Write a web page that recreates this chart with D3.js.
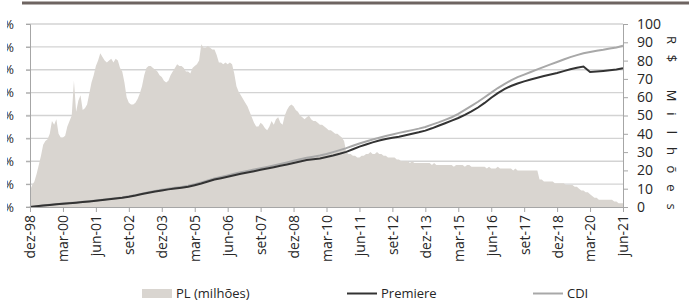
<!DOCTYPE html>
<html>
<head>
<meta charset="utf-8">
<script src="https://cdn.jsdelivr.net/npm/d3@7"></script>
<style>
  body { margin: 0; background: #fff; }
  text { font-family: "Open Sans", sans-serif; fill: #262626; }
</style>
</head>
<body>
<div id="chart"></div>
<script>
// x tick labels, one every 15 months starting dez-98
const xLabels = ["dez-98","mar-00","jun-01","set-02","dez-03","mar-05","jun-06","set-07","dez-08",
  "mar-10","jun-11","set-12","dez-13","mar-15","jun-16","set-17","dez-18","mar-20","jun-21"];
const leftTicks = [0, 200, 400, 600, 800, 1000, 1200, 1400, 1600];
const rightTicks = [0, 10, 20, 30, 40, 50, 60, 70, 80, 90, 100];

// PL (R$ milhoes), monthly from dez-98 to jun-21
const plMonthly = [
  9,12,14,18,23,28,34,36,37,40,47,45,48,40,38,38,39,44,47,50,69,52,58,61,53,54,56,62,68,72,
  77,80,84,82,80,79,80,81,79,81,80,76,74,68,60,57,56,56,57,59,62,66,72,76,77,77,76,75,74,72,
  71,69,68,69,72,74,76,78,77,77,76,74,74,73,76,77,78,80,89,87,87,88,87,86,86,83,79,79,78,79,
  78,79,78,73,66,63,61,59,57,55,52,49,46,44,44,46,45,43,42,44,47,45,48,49,46,45,50,53,55,56,
  55,53,52,50,49,48,49,50,48,47,47,46,45,45,44,43,42,42,41,40,40,39,38,36,30,29,29,28,28,27,
  27,28,28,29,29,30,29,29,30,29,29,28,28,27,27,27,27,26,26,25,25,25,25,24,25,24,24,24,24,24,
  24,24,24,23,24,23,23,23,23,23,23,23,23,22,23,23,23,23,22,23,23,22,22,22,22,22,22,22,21,22,
  21,21,21,22,21,21,21,21,21,21,20,21,20,20,20,20,20,20,20,20,20,20,15,15,14,14,14,14,14,13,
  13,13,13,13,12,12,12,12,11,11,10,9,9,8,8,7,6,5,5,4,4,4,4,4,4,4,3,3,2,2,2
];

// cumulative return (%), quarterly from dez-98 to jun-21
const premiereQ = [
  0,6,13,18,24,28,33,38,44,49,55,61,68,74,80,89,100,113,125,135,145,154,162,169,177,191,206,223,240,
  252,264,277,290,302,313,325,336,348,360,372,385,398,410,418,425,437,450,465,482,505,528,547,565,
  581,595,606,615,627,640,653,668,688,710,732,755,778,805,836,870,910,955,995,1030,1058,1080,1098,
  1115,1130,1145,1159,1172,1188,1205,1218,1228,1180,1185,1190,1196,1203,1214
];
const cdiQ = [
  0,7,14,19,25,30,35,40,46,51,57,64,71,77,84,93,104,117,130,141,151,160,169,176,185,199,215,232,250,
  263,276,290,303,315,327,339,351,364,377,390,404,418,430,440,450,464,480,497,515,535,555,573,590,
  606,620,634,648,660,672,685,700,720,740,762,785,815,850,885,920,960,1000,1040,1075,1107,1135,1158,
  1180,1203,1225,1247,1268,1290,1310,1328,1345,1356,1366,1374,1385,1395,1410
];

const width = 689, height = 306;
const plotLeft = 30, plotRight = 623, plotTop = 24, plotBottom = 207;

const svg = d3.select("#chart").append("svg")
  .attr("width", width)
  .attr("height", height);

const x = d3.scaleLinear().domain([0, plMonthly.length - 1]).range([plotLeft, plotRight]);
const yL = d3.scaleLinear().domain([0, 1600]).range([plotBottom, plotTop]);
const yR = d3.scaleLinear().domain([0, 100]).range([plotBottom, plotTop]);

// header rule
svg.append("line")
  .attr("x1", 22).attr("x2", width).attr("y1", 3).attr("y2", 3)
  .attr("stroke", "#6e6461").attr("stroke-width", 3);

// gridlines
svg.append("g")
  .selectAll("line")
  .data(leftTicks)
  .join("line")
  .attr("x1", plotLeft - 4).attr("x2", plotRight)
  .attr("y1", d => yL(d)).attr("y2", d => yL(d))
  .attr("stroke", "#d3d3d3").attr("stroke-width", 1.3);

// PL area
const area = d3.area()
  .x((d, i) => x(i))
  .y0(yR(0))
  .y1(d => yR(d));
svg.append("path")
  .datum(plMonthly)
  .attr("fill", "#d9d5d0")
  .attr("d", area);

// lines, quarterly points
const line = d3.line()
  .x((d, i) => x(i * 3))
  .y(d => yL(d));
svg.append("path").datum(cdiQ)
  .attr("fill", "none").attr("stroke", "#a8a8a8").attr("stroke-width", 2)
  .attr("d", line);
svg.append("path").datum(premiereQ)
  .attr("fill", "none").attr("stroke", "#333333").attr("stroke-width", 2)
  .attr("d", line);

// left axis, labels cut off at the left edge like the original
svg.append("defs").append("clipPath").attr("id", "leftclip")
  .append("rect").attr("x", 7).attr("y", 0).attr("width", 1000).attr("height", height);
const gL = svg.append("g")
  .attr("clip-path", "url(#leftclip)")
  .append("g")
  .attr("transform", `translate(${plotLeft},0)`)
  .call(d3.axisLeft(yL).tickValues(leftTicks).tickSize(4).tickFormat(d => d + "%"));
gL.select(".domain").attr("stroke", "#a6a6a6");
gL.selectAll(".tick line").attr("stroke", "#a6a6a6");
gL.selectAll(".tick text")
  .attr("x", -16)
  .style("font-size", "13px")
  .style("font-family", "Open Sans, sans-serif")
  .attr("fill", "#262626");

// right axis
const gR = svg.append("g")
  .attr("transform", `translate(${plotRight},0)`)
  .call(d3.axisRight(yR).tickValues(rightTicks).tickSize(5));
gR.select(".domain").attr("stroke", "#a6a6a6");
gR.selectAll(".tick line").attr("stroke", "#a6a6a6");
gR.selectAll(".tick text")
  .attr("x", 14)
  .style("font-size", "14px")
  .style("font-family", "Open Sans, sans-serif")
  .attr("fill", "#262626");

// x axis
const xTicks = xLabels.map((d, i) => i * 15);
const gX = svg.append("g")
  .attr("transform", `translate(0,${plotBottom})`)
  .call(d3.axisBottom(x).tickValues(xTicks).tickSize(5).tickFormat((d, i) => xLabels[i]));
gX.select(".domain").attr("stroke", "#a6a6a6");
gX.selectAll(".tick line").attr("stroke", "#a6a6a6");
gX.selectAll(".tick text")
  .attr("transform", "rotate(-90)")
  .attr("x", -8).attr("y", 0).attr("dy", "0.35em")
  .style("text-anchor", "end")
  .style("font-size", "14px")
  .style("font-family", "Open Sans, sans-serif")
  .attr("fill", "#262626");

// right axis title, letters stacked with fixed spacing
const titleChars = Array.from("R$ Milhões");
svg.append("g")
  .selectAll("text")
  .data(titleChars)
  .join("text")
  .attr("transform", (d, i) => `translate(672,${40 + i * 18.5}) rotate(90)`)
  .attr("text-anchor", "middle")
  .attr("dy", "0.35em")
  .style("font-size", "13px")
  .text(d => d);

// legend
const legend = svg.append("g");
legend.append("rect")
  .attr("x", 142).attr("y", 289).attr("width", 30).attr("height", 9)
  .attr("fill", "#d9d5d0");
legend.append("text").attr("x", 176).attr("y", 298).style("font-size", "13px").text("PL (milhões)");
legend.append("line")
  .attr("x1", 347).attr("x2", 377).attr("y1", 293.5).attr("y2", 293.5)
  .attr("stroke", "#333333").attr("stroke-width", 2);
legend.append("text").attr("x", 381).attr("y", 298).style("font-size", "13px").text("Premiere");
legend.append("line")
  .attr("x1", 533).attr("x2", 563).attr("y1", 293.5).attr("y2", 293.5)
  .attr("stroke", "#a8a8a8").attr("stroke-width", 2);
legend.append("text").attr("x", 567).attr("y", 298).style("font-size", "13px").text("CDI");
</script>
</body>
</html>
